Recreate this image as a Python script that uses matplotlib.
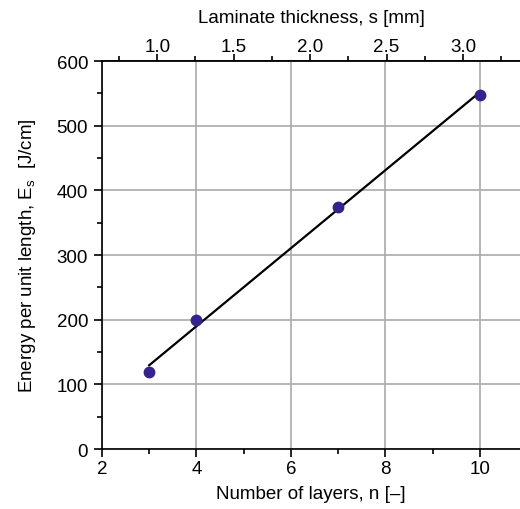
import matplotlib
matplotlib.use("Agg")
import matplotlib.pyplot as plt
import numpy as np
from matplotlib.ticker import MultipleLocator, FixedLocator, FormatStrFormatter

plt.rcParams['font.family'] = ['Liberation Sans', 'DejaVu Sans']
plt.rcParams['mathtext.fontset'] = 'custom'
plt.rcParams['mathtext.rm'] = 'Liberation Sans'

# Measured data
layers = np.array([3, 4, 7, 10])
energy = np.array([119, 200, 375, 548])
thickness_ticks = [1.0, 1.5, 2.0, 2.5, 3.0]

# Linear fit through the points
slope, intercept = np.polyfit(layers, energy, 1)
fit_x = np.array([layers.min(), layers.max()])
fit_y = slope * fit_x + intercept


# Laminate thickness as function of number of layers
def to_thickness(n):
    return 0.309 * n + 0.02


def to_layers(s):
    return (s - 0.02) / 0.309


fig = plt.figure(figsize=(5.2, 5.1), dpi=100)
ax = fig.add_axes([0.196, 0.1176, 0.804, 0.7608])

ax.grid(True, color='#aaaaaa', linewidth=1.2, zorder=0)
ax.plot(fit_x, fit_y, color='black', linewidth=1.6, zorder=3)
ax.plot(layers, energy, 'o', color='#36228c', markersize=7.5, zorder=4)

ax.set_xlim(2, 10.85)
ax.set_ylim(0, 600)
ax.xaxis.set_major_locator(MultipleLocator(2))
ax.xaxis.set_minor_locator(MultipleLocator(1))
ax.yaxis.set_major_locator(MultipleLocator(100))
ax.yaxis.set_minor_locator(MultipleLocator(50))

for side in ['left', 'bottom', 'top']:
    ax.spines[side].set_linewidth(1.2)
ax.spines['right'].set_visible(False)

ax.tick_params(which='major', direction='out', length=6, width=1.2, labelsize=13.5, pad=2)
ax.tick_params(axis='y', which='major', pad=4)
ax.tick_params(which='minor', direction='out', length=3.5, width=1.2)

ax.set_xlabel('Number of layers, n [–]', fontsize=13.5, labelpad=6)
ax.set_ylabel('Energy per unit length, E$_\\mathregular{s}$  [J/cm]', fontsize=13.5, labelpad=13)

top = ax.secondary_xaxis('top', functions=(to_thickness, to_layers))
top.xaxis.set_major_locator(FixedLocator(thickness_ticks))
top.xaxis.set_minor_locator(MultipleLocator(0.25))
top.xaxis.set_major_formatter(FormatStrFormatter('%.1f'))
top.tick_params(which='major', direction='out', length=5, width=1.2, labelsize=13.5, pad=-1)
top.tick_params(which='minor', direction='out', length=3.5, width=1.2)
top.spines['top'].set_linewidth(1.2)
top.set_xlabel('Laminate thickness, s [mm]', fontsize=13.5, labelpad=12)

fig.savefig('out.png', dpi=100)
